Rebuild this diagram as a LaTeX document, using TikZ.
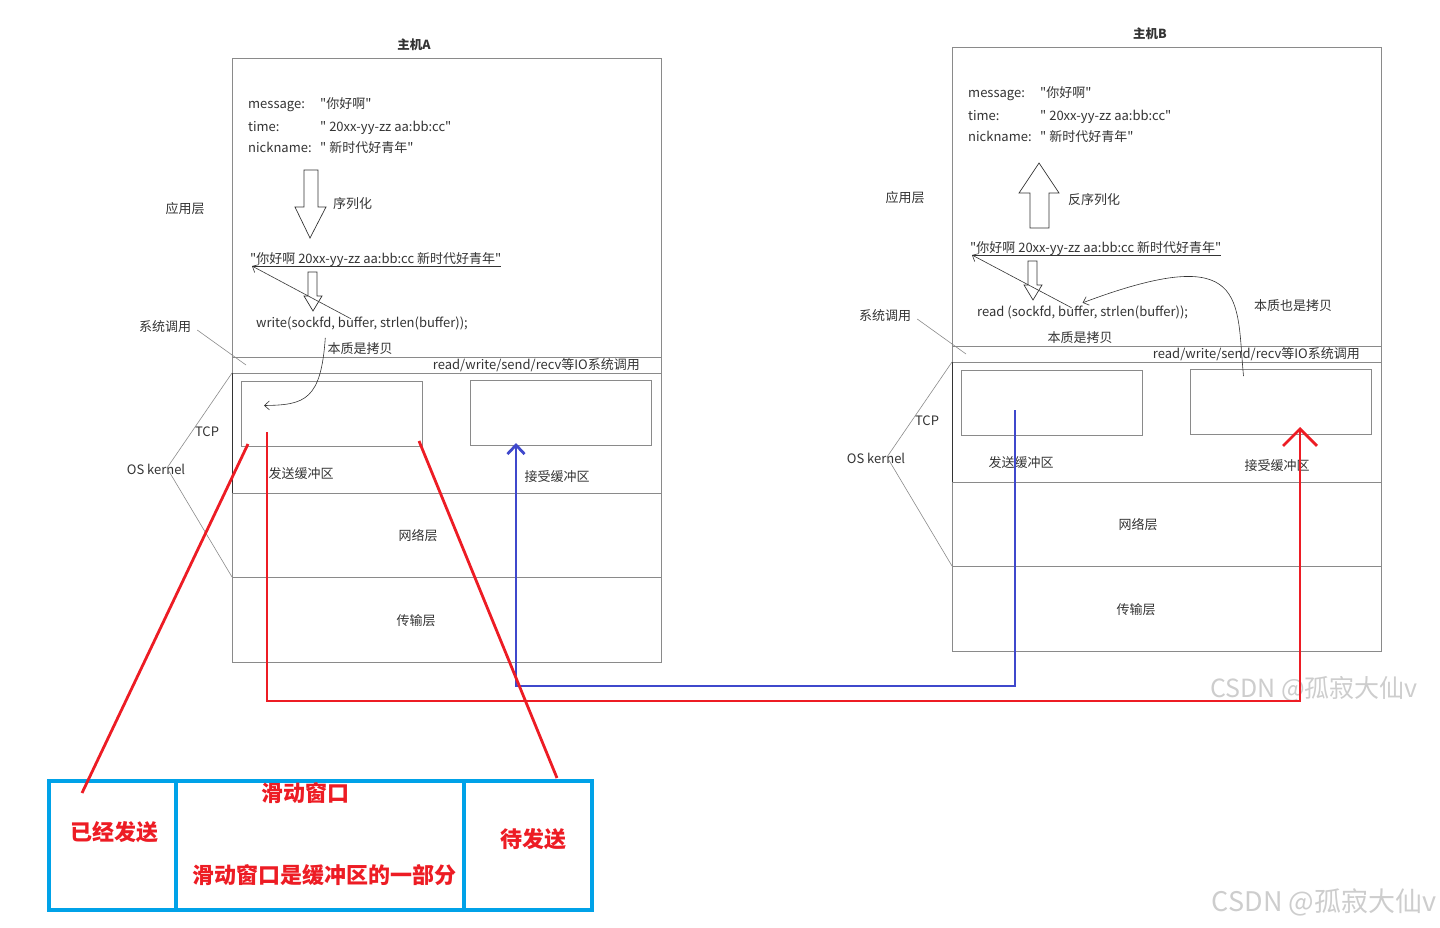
\documentclass[tikz,border=0pt]{standalone}
\usepackage{fontspec}
\setmainfont{Noto Sans CJK SC}[Ligatures=TeXOff]
\usetikzlibrary{arrows.meta,calc,positioning}
\definecolor{Ink}{HTML}{333333}
\definecolor{Frame}{HTML}{8A8A8A}
\definecolor{Red}{HTML}{ED1C24}
\definecolor{Indigo}{HTML}{3F48CC}
\definecolor{Sky}{HTML}{00A2E8}
\definecolor{Faint}{HTML}{CDCDCD}
\tikzset{
  txt/.style={font=\fontsize{13}{15}\selectfont,text=Ink,inner sep=0pt,text height=11pt,text depth=1pt},
  note/.style={font=\fontsize{13}{15}\selectfont,text=Ink,inner sep=0pt,text height=11pt,text depth=1pt},
  big/.style={font=\fontsize{22}{25}\selectfont\bfseries,text=Red,inner sep=0pt},
  wm/.style={text=Faint,inner sep=0pt},
  frame/.style={draw=Frame,line width=.9pt},
  buf/.style={draw=Frame,line width=.9pt,minimum width=181pt,minimum height=65pt,inner sep=0pt,outer sep=0pt},
  win/.style={draw=Sky,line width=3.5pt,minimum height=129pt,inner sep=0pt,outer sep=0pt},
  hollow/.style={draw=Ink,line width=.7pt},
  pointer/.style={draw=Ink,line width=.6pt},
  flow/.style={line width=2.8pt}
}
\begin{document}
\begin{tikzpicture}[x=1pt,y=-1pt,>={Straight Barb[length=5pt,width=9pt]}]
\useasboundingbox (0,0) rectangle (1440,928);
\node[txt,anchor=west] (codeA) at (256,322) {write(sockfd, buffer, strlen(buffer));};
\node[txt,anchor=west] (codeB) at (977,311) {read (sockfd, buffer, strlen(buffer));};
\foreach \h/\dx/\dy/\tx in {A/0/0/414,B/720/-11/430}{
  \begin{scope}[shift={(\dx,\dy)}]
  \node[txt,font=\fontsize{12.5}{15}\selectfont\bfseries] (title\h) at (\tx,45) {主机\h};
  \draw[frame] (232,58) rectangle (661,662);
  \draw[frame] (232,357) rectangle (661,373);
  \draw[frame] (232,493) -- (661,493) (232,577) -- (661,577);
  \draw[draw=Ink,line width=.9pt] (232,373) -- (232,493);
  \node[buf,anchor=north west] (send\h) at (241,381) {};
  \node[buf,anchor=north west] (recv\h) at (470,380) {};
  \node[txt,anchor=west] (msgK\h) at (248,104) {message:};
  \node[txt,anchor=west] (timeK\h) at (248,127) {time:};
  \node[txt,anchor=west] (nickK\h) at (248,148) {nickname:};
  \node[txt,anchor=west] (msgV\h) at (320,104) {"你好啊"};
  \node[txt,anchor=west] (timeV\h) at (320,127) {" 20xx-yy-zz aa:bb:cc"};
  \node[txt,anchor=west] (nickV\h) at (320,148) {" 新时代好青年"};
  \node[txt,anchor=west] (str\h) at (250,258) {"你好啊 20xx-yy-zz aa:bb:cc 新时代好青年"};
  \draw[pointer] (252,266) coordinate (ul\h) -- (501,266);
  \draw[hollow] (308,272) -- (317,272) -- (317,296) -- (322,296) -- (313,311) -- (304,296) -- (308,296) -- cycle;
  \draw[pointer,->] ([xshift=-11pt,yshift=-3pt]code\h.north) -- (ul\h);
  \node[note] (copy\h) at (360,348) {本质是拷贝};
  \node[note] (app\h) at (185,209) {应用层};
  \node[note] (sys\h) at (165,326) {系统调用};
  \draw[pointer,draw=Frame] ([shift={(6pt,-4pt)}]sys\h.east) -- (246,365);
  \node[txt,anchor=east] (io\h) at (640,364) {read/write/send/recv等IO系统调用};
  \node[txt] (tcp\h) at (207,431) {TCP};
  \node[txt] (os\h) at (156,469) {OS kernel};
  \draw[pointer,draw=Frame] (232,373) -- (167,468) -- (232,577);
  \node[note] (sendL\h) at (301,473) {发送缓冲区};
  \node[note] (recvL\h) at (557,476) {接受缓冲区};
  \node[note] (net\h) at (418,535) {网络层};
  \node[note] (trans\h) at (416,620) {传输层};
  \end{scope}}
\draw[hollow] (304,170) -- (318,170) -- (318,207) -- (326,207) -- (310,238) -- (295,207) -- (304,207) -- cycle;
\node[note,anchor=west] (serA) at (333,203) {序列化};
\draw[pointer,->] ([xshift=-2pt,yshift=4pt]copyA.north west) .. controls (321,400) and (305,405) .. ([xshift=23pt,yshift=8pt]sendA.west);
\draw[hollow] (1039,163) -- (1059,193) -- (1049,193) -- (1049,228) -- (1030,228) -- (1030,193) -- (1019,193) -- cycle;
\node[note,anchor=west] (deserB) at (1068,200) {反序列化};
\node[note] (copy2B) at (1293,305) {本质也是拷贝};
\draw[pointer,->] ([xshift=-37pt,yshift=-7pt]recvB.north) .. controls (1236,300) and (1250,240) .. ([yshift=2pt]codeB.north);
\node[wm,font=\fontsize{25}{28}\selectfont] (wm1) at (1314,689) {CSDN @孤寂大仙v};
\node[wm,font=\fontsize{27}{30}\selectfont] (wm2) at (1324,902) {CSDN @孤寂大仙v};
\node[win,minimum width=127pt,anchor=north west] (sent) at (49,781) {};
\node[win,minimum width=288pt,anchor=north west] (slide) at (176,781) {};
\node[win,minimum width=128pt,anchor=north west] (pend) at (464,781) {};
\node[big] (sentT) at (114,832) {已经发送};
\node[big] (slideT) at (305,793) {滑动窗口};
\node[big] (slideN) at (324,875) {滑动窗口是缓冲区的一部分};
\node[big] (pendT) at (533,839) {待发送};
\coordinate (outA) at (267,432);
\coordinate (outB) at (1015,410);
\coordinate (inA) at (516,443);
\coordinate (inB) at (1300,427);
\draw[flow,draw=Indigo,-{Straight Barb[length=9pt,width=17pt]}] (outB) |- ([yshift=-243pt]inA) -- (inA);
\draw[flow,draw=Red,-{Straight Barb[length=17pt,width=34pt]}] (outA) |- ([yshift=-274pt]inB) -- (inB);
\draw[flow,draw=Red] ([xshift=7pt,yshift=2pt]sendA.south west) -- ([xshift=33pt,yshift=-12pt]sent.north west);
\draw[flow,draw=Red] ([xshift=-3pt,yshift=5pt]sendA.south east) -- ([xshift=-35pt,yshift=3pt]pend.north east);
\end{tikzpicture}
\end{document}
